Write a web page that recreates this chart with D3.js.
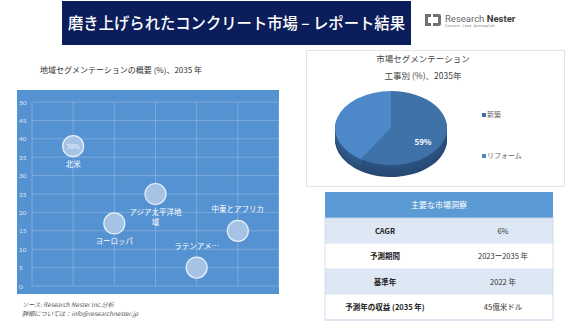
<!DOCTYPE html>
<html>
<head>
<meta charset="utf-8">
<script src="https://cdn.jsdelivr.net/npm/d3@7"></script>
<style>
  html, body { margin: 0; padding: 0; background: #ffffff; }
  svg { display: block; font-family: "Noto Sans CJK JP", "Noto Sans", sans-serif; }
</style>
</head>
<body>
<svg id="chart" width="580" height="326"></svg>
<script>
// Regional bubbles: position on x, share (%) on y
const regions = ["北米", "ヨーロッパ", "アジア太平洋地域", "ラテンアメリカ", "中東とアフリカ"];
const regionLabels = [["北米"], ["ヨーロッパ"], ["アジア太平洋地", "域"], ["ラテンアメ…"], ["中東とアフリカ"]];
const regionX = [1, 2, 3, 4, 5];
const regionShare = [38, 17, 25, 5, 15];
const regionValueLabels = ["38%", "", "", "", ""];
const yTicks = [0, 5, 10, 15, 20, 25, 30, 35, 40, 45, 50];
const xTicks = [0, 1, 2, 3, 4, 5, 6];

// Construction type split
const pieCategories = ["新築", "リフォーム"];
const pieValues = [59, 41];

// Key market insights table
const tableHeader = "主要な市場洞察";
const tableKeys = ["CAGR", "予測期間", "基準年", "予測年の収益 (2035 年)"];
const tableValues = ["6%", "2023ー2035 年", "2022 年", "45億米ドル"];

const svg = d3.select("#chart");
const defs = svg.append("defs");

// ---------- Header bar ----------
svg.append("rect").attr("x", 62).attr("y", 1).attr("width", 349).attr("height", 44).attr("fill", "#0b1e5b");
svg.append("text").attr("x", 68).attr("y", 29).attr("text-anchor", "start")
  .attr("fill", "#ffffff").attr("font-size", 16).attr("font-weight", 500)
  .attr("textLength", 337).attr("lengthAdjust", "spacingAndGlyphs")
  .text("磨き上げられたコンクリート市場 – レポート結果");

// logo
const logo = svg.append("g").attr("transform", "translate(423,12)");
logo.append("path").attr("d", "M2,2 h6 v3 h-3 v6 h3 v3 h-6 z").attr("fill", "#707070");
logo.append("path").attr("d", "M10,2 h6 a2,2 0 0 1 2,2 v8 a2,2 0 0 1 -2,2 h-6 v-3 h5 v-6 h-5 z").attr("fill", "#707070");
logo.append("text").attr("x", 22).attr("y", 9.5).attr("font-size", 9.5).attr("fill", "#6a6a6a")
  .attr("font-family", "Roboto, sans-serif")
  .html('Research <tspan font-weight="700" fill="#3a3a3a">Nester</tspan>');
logo.append("text").attr("x", 22).attr("y", 15).attr("font-size", 3.4).attr("fill", "#777")
  .attr("letter-spacing", 0.35).attr("font-family", "Roboto, sans-serif").text("Connect. Lead. Accomplish");

// ---------- Bubble chart ----------
svg.append("text").attr("x", 40).attr("y", 73).attr("font-size", 8).attr("fill", "#333")
  .text("地域セグメンテーションの概要 (%)、2035 年");

svg.append("rect").attr("x", 17).attr("y", 90).attr("width", 262).attr("height", 204).attr("fill", "#5592d2");

const x = d3.scaleLinear().domain([0, 6]).range([32, 279]);
const y = d3.scaleLinear().domain([0, 50]).range([286, 102]);

const grid = svg.append("g");
grid.selectAll("line.h").data(yTicks).join("line")
  .attr("x1", x(0)).attr("x2", x(6)).attr("y1", d => y(d)).attr("y2", d => y(d))
  .attr("stroke", "rgba(255,255,255,0.28)").attr("stroke-width", 0.8);
grid.selectAll("line.v").data(xTicks).join("line")
  .attr("x1", d => x(d)).attr("x2", d => x(d)).attr("y1", y(0)).attr("y2", y(50))
  .attr("stroke", "rgba(255,255,255,0.28)").attr("stroke-width", 0.8);

const yAxis = d3.axisLeft(y).tickValues(yTicks).tickSize(0).tickPadding(0);
const gy = svg.append("g").attr("transform", "translate(19,0)").call(yAxis);
gy.select(".domain").remove();
gy.selectAll("text").attr("text-anchor", "start").attr("x", 0).attr("dy", "0.32em")
  .attr("fill", "rgba(255,255,255,0.8)").attr("font-size", 6.5).attr("font-family", "Lato, sans-serif");

// hatched bubble fill
const pat = defs.append("pattern").attr("id", "hatch").attr("patternUnits", "userSpaceOnUse")
  .attr("width", 2).attr("height", 2).attr("patternTransform", "rotate(45)");
pat.append("rect").attr("width", 2).attr("height", 2).attr("fill", "#9fbee3");
pat.append("line").attr("x1", 0).attr("y1", 0).attr("x2", 0).attr("y2", 2)
  .attr("stroke", "#bcd2ec").attr("stroke-width", 1);

const bubbles = svg.append("g");
const bubbleData = regions.map((r, i) => ({ name: r, x: regionX[i], v: regionShare[i], lab: regionLabels[i], val: regionValueLabels[i] }));
bubbles.selectAll("circle").data(bubbleData).join("circle")
  .attr("cx", d => x(d.x)).attr("cy", d => y(d.v)).attr("r", 10.5)
  .attr("fill", "url(#hatch)").attr("stroke", "#e8f0fa").attr("stroke-width", 1.2);
bubbles.selectAll("text.val").data(bubbleData.filter(d => d.val)).join("text")
  .attr("class", "val").attr("x", d => x(d.x)).attr("y", d => y(d.v) + 2.5)
  .attr("text-anchor", "middle").attr("font-size", 6.5).attr("fill", "#eef4fb").text(d => d.val);

// category labels: below for some bubbles, above for others
const labelAbove = [false, false, false, true, true];
bubbleData.forEach((d, i) => {
  const t = bubbles.append("text").attr("text-anchor", "middle").attr("font-size", 7.5).attr("fill", "#ffffff");
  const startY = labelAbove[i] ? y(d.v) - 19 : y(d.v) + 21;
  d.lab.forEach((line, j) => {
    t.append("tspan").attr("x", x(d.x)).attr("y", startY + j * 9.5).text(line);
  });
});

// footer source
svg.append("text").attr("x", 22).attr("y", 307).attr("font-size", 6.2).attr("fill", "#555")
  .attr("font-style", "italic").text("ソース: Research Nester Inc.分析");
svg.append("text").attr("x", 22).attr("y", 316).attr("font-size", 6.2).attr("fill", "#555")
  .attr("font-style", "italic").text("詳細については：info@researchnester.jp");

// ---------- Pie chart panel ----------
svg.append("rect").attr("x", 306.5).attr("y", 50.5).attr("width", 258).attr("height", 136)
  .attr("fill", "#fff").attr("stroke", "#e4e4e4").attr("stroke-width", 1);
svg.append("text").attr("x", 423).attr("y", 62).attr("text-anchor", "middle").attr("font-size", 8.5).attr("fill", "#444")
  .text("市場セグメンテーション");
svg.append("text").attr("x", 423).attr("y", 79).attr("text-anchor", "middle").attr("font-size", 8.5).attr("fill", "#444")
  .text("工事別 (%)、2035年");

const pieColors = ["#3f72a8", "#4d89c8"];
const sideColors = ["#2c5583", "#355f8f"];
const rx = 56, ry = 37, depth = 12;
const pcx = 391, pcy = 128;
const arcs = d3.pie().sort(null)(pieValues);
const arcGen = d3.arc().innerRadius(0).outerRadius(rx);

// side wall: stacked copies of the ellipse, darker
const side = svg.append("g");
for (let k = depth; k >= 1; k--) {
  side.append("g").attr("transform", `translate(${pcx},${pcy + k}) scale(1,${ry / rx})`)
    .selectAll("path").data(arcs).join("path")
    .attr("d", arcGen).attr("fill", (d, i) => d3.interpolateRgb(sideColors[i], "#1f3d60")(k / depth * 0.5));
}
const pieTop = svg.append("g").attr("transform", `translate(${pcx},${pcy}) scale(1,${ry / rx})`);
pieTop.selectAll("path").data(arcs).join("path").attr("d", arcGen).attr("fill", (d, i) => pieColors[i]);

// value label on the larger slice
svg.append("text").attr("x", 423).attr("y", 145).attr("text-anchor", "middle").attr("font-size", 8)
  .attr("font-weight", 700).attr("fill", "#ffffff").text(pieValues[0] + "%");

// legend
const leg = svg.append("g");
pieCategories.forEach((c, i) => {
  const ly = 117 + i * 41;
  leg.append("rect").attr("x", 482).attr("y", ly - 4).attr("width", 4).attr("height", 4).attr("fill", pieColors[i]);
  leg.append("text").attr("x", 487).attr("y", ly).attr("font-size", 7).attr("fill", "#666").text(c);
});

// ---------- Insights table ----------
const tx = 325, tw = 228;
svg.append("rect").attr("x", tx).attr("y", 192).attr("width", tw).attr("height", 26).attr("fill", "#5b9bd5");
svg.append("text").attr("x", tx + tw / 2).attr("y", 208).attr("text-anchor", "middle").attr("font-size", 8)
  .attr("fill", "#ffffff").text(tableHeader);

const rowH = 25.5;
const rows = svg.append("g");
tableKeys.forEach((k, i) => {
  const ry0 = 218 + i * rowH;
  rows.append("rect").attr("x", tx).attr("y", ry0).attr("width", tw).attr("height", rowH)
    .attr("fill", i % 2 === 0 ? "#dde8f4" : "#ffffff");
  rows.append("line").attr("x1", tx).attr("x2", tx + tw).attr("y1", ry0 + rowH).attr("y2", ry0 + rowH)
    .attr("stroke", "#c9d8ea").attr("stroke-width", 0.8);
  rows.append("text").attr("x", 385).attr("y", ry0 + 15.5).attr("text-anchor", "middle")
    .attr("font-size", 7.5).attr("font-weight", 700).attr("fill", "#222").text(k);
  rows.append("text").attr("x", 503).attr("y", ry0 + 15.5).attr("text-anchor", "middle")
    .attr("font-size", 7.5).attr("fill", "#333").text(tableValues[i]);
});
svg.append("rect").attr("x", tx).attr("y", 218).attr("width", tw).attr("height", rowH * 4)
  .attr("fill", "none").attr("stroke", "#c9d8ea").attr("stroke-width", 0.8);
</script>
</body>
</html>
